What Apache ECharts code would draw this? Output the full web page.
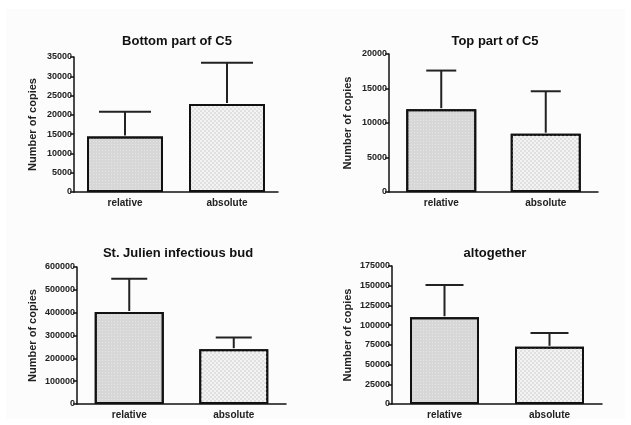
<!DOCTYPE html>
<html>
<head>
<meta charset="utf-8">
<script src="https://cdn.jsdelivr.net/npm/echarts@6/dist/echarts.min.js"></script>
<style>
html,body{margin:0;padding:0;background:#fff;}
#main{width:631px;height:425px;}
</style>
</head>
<body>
<div id="main"></div>
<script>
// data
var categories = ['relative', 'absolute'];
var titles = ['Bottom part of C5', 'Top part of C5', 'St. Julien infectious bud', 'altogether'];
var bottomMean = [14400, 22800];
var bottomSd = [6400, 10700];
var topMean = [12000, 8450];
var topSd = [5600, 6150];
var budMean = [403000, 240000];
var budSd = [146000, 51000];
var allMean = [110000, 72500];
var allSd = [41000, 17500];
var yMax = [35000, 20000, 600000, 175000];
var yStep = [5000, 5000, 100000, 25000];

var means = [bottomMean, topMean, budMean, allMean];
var sds = [bottomSd, topSd, budSd, allSd];

// layout of the four panels
var grids = [
	{left: 74, top: 57, width: 204, height: 135},
	{left: 389, top: 54, width: 209, height: 138},
	{left: 77, top: 267, width: 209, height: 137},
	{left: 392, top: 266, width: 210, height: 138}
];
var titlePos = [[172, 30], [490, 30], [173, 242], [490, 242]];
var nameGap = [36, 36, 39, 39];
var capW = [52, 30, 36, 38];
var barW = [76, 70, 69, 69];

var fillRel = {
	color: '#d7d7d7',
	borderColor: '#111',
	borderWidth: 2,
	decal: {symbol: 'rect', symbolSize: 1, color: 'rgba(255,255,255,0.35)', dashArrayX: [1, 2], dashArrayY: [1, 2]}
};
var fillAbs = {
	color: '#f3f3f3',
	borderColor: '#111',
	borderWidth: 2,
	decal: {symbol: 'rect', symbolSize: 1, color: '#e0e0e0', dashArrayX: [[2, 2], [0, 2, 2, 0]], dashArrayY: [2, 0]}
};

var option = {
	backgroundColor: '#fff',
	animation: false,
	graphic: [{type: 'rect', shape: {x: 6, y: 9, width: 619, height: 410}, style: {fill: '#fcfcfc'}, z: -10}],
	title: [],
	grid: [],
	xAxis: [],
	yAxis: [],
	series: []
};

for (var i = 0; i < 4; i++) {
	option.title.push({
		text: titles[i],
		left: titlePos[i][0],
		top: titlePos[i][1],
		textAlign: 'center',
		textStyle: {fontFamily: 'Liberation Sans', fontSize: 13, fontWeight: 'bold', color: '#111'}
	});
	option.grid.push(grids[i]);
	option.xAxis.push({
		type: 'category',
		gridIndex: i,
		data: categories,
		axisLine: {lineStyle: {color: '#111', width: 1.5}},
		axisTick: {alignWithLabel: true, length: 4, lineStyle: {color: '#111', width: 1.5}},
		axisLabel: {fontFamily: 'Liberation Sans', fontSize: 10, fontWeight: 'bold', color: '#222', margin: 6},
		splitLine: {show: false}
	});
	option.yAxis.push({
		type: 'value',
		gridIndex: i,
		min: 0,
		max: yMax[i],
		interval: yStep[i],
		name: 'Number of copies',
		nameLocation: 'middle',
		nameGap: nameGap[i],
		nameTextStyle: {fontFamily: 'Liberation Sans', fontSize: 11, fontWeight: 'bold', color: '#222'},
		axisLine: {show: true, lineStyle: {color: '#111', width: 1.5}},
		axisTick: {show: true, length: 4, lineStyle: {color: '#111', width: 1.5}},
		axisLabel: {
			fontFamily: 'Liberation Sans', fontSize: 9, fontWeight: 'bold', color: '#222', margin: 2,
			formatter: function (v) { return String(v); }
		},
		splitLine: {show: false}
	});
	option.series.push({
		type: 'bar',
		xAxisIndex: i,
		yAxisIndex: i,
		barWidth: barW[i],
		z: 2,
		data: [
			{value: means[i][0], itemStyle: fillRel},
			{value: means[i][1], itemStyle: fillAbs}
		]
	});
	// 误差线 (only the upper half, like the original)
	(function (k) {
		option.series.push({
			type: 'custom',
			xAxisIndex: k,
			yAxisIndex: k,
			z: 3,
			data: means[k].map(function (m, j) { return [j, m, m + sds[k][j]]; }),
			renderItem: function (params, api) {
				var base = api.coord([api.value(0), api.value(1)]);
				var top = api.coord([api.value(0), api.value(2)]);
				var hw = capW[k] / 2;
				var st = {stroke: '#222', lineWidth: 2};
				return {
					type: 'group',
					children: [
						{type: 'line', shape: {x1: base[0], y1: base[1] - 1, x2: top[0], y2: top[1]}, style: st},
						{type: 'line', shape: {x1: top[0] - hw, y1: top[1], x2: top[0] + hw, y2: top[1]}, style: st}
					]
				};
			}
		});
	})(i);
}

var myChart = echarts.init(document.getElementById('main'));
myChart.setOption(option);
</script>
</body>
</html>
